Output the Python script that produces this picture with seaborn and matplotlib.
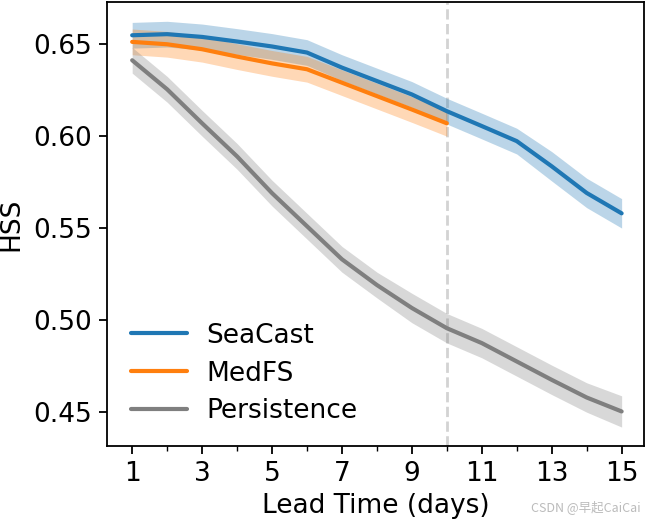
import matplotlib
matplotlib.use("Agg")
import matplotlib.pyplot as plt
import seaborn as sns
import numpy as np
import pandas as pd
from matplotlib.ticker import MultipleLocator

sns.set_style("ticks")
plt.rcParams['font.family'] = ['DejaVu Sans', 'Noto Sans CJK SC']
plt.rcParams['text.color'] = 'black'
plt.rcParams['axes.labelcolor'] = 'black'
plt.rcParams['xtick.color'] = 'black'
plt.rcParams['ytick.color'] = 'black'

lead_days = list(range(1, 16))
seacast = [0.6549, 0.6555, 0.6540, 0.6515, 0.6488, 0.6455, 0.6373, 0.6300, 0.6227, 0.6136,
           0.6055, 0.5973, 0.5836, 0.5691, 0.5580]
seacast_err = [0.007, 0.007, 0.007, 0.007, 0.007, 0.007, 0.007, 0.007, 0.007, 0.007,
               0.007, 0.007, 0.008, 0.008, 0.008]
medfs_days = list(range(1, 11))
medfs = [0.6513, 0.6500, 0.6473, 0.6433, 0.6396, 0.6364, 0.6291, 0.6218, 0.6145, 0.6070]
medfs_err = [0.007, 0.007, 0.007, 0.007, 0.007, 0.007, 0.007, 0.007, 0.007, 0.007]
persistence = [0.6413, 0.6255, 0.6070, 0.5890, 0.5690, 0.5510, 0.5330, 0.5190, 0.5065, 0.4955,
               0.4874, 0.4774, 0.4674, 0.4578, 0.4502]
persistence_err = [0.007, 0.007, 0.007, 0.007, 0.007, 0.007, 0.007, 0.007, 0.008, 0.008,
                   0.008, 0.008, 0.008, 0.008, 0.0085]
series_names = ["SeaCast", "MedFS", "Persistence"]
colors = ["#1f77b4", "#ff7f0e", "#7f7f7f"]

fig = plt.figure(figsize=(6.47, 5.22), dpi=100)
ax = fig.add_axes([107/647, 1 - 446/522, (644 - 107)/647, (446 - 2)/522])

data = [(lead_days, seacast, seacast_err), (medfs_days, medfs, medfs_err),
        (lead_days, persistence, persistence_err)]
for name, col, (xs, ys, es) in zip(series_names, colors, data):
    df = pd.DataFrame({"Lead Time": xs, "HSS": ys})
    sns.lineplot(data=df, x="Lead Time", y="HSS", ax=ax, color=col, lw=3, label=name)
    lo = np.array(ys) - np.array(es)
    hi = np.array(ys) + np.array(es)
    ax.fill_between(xs, lo, hi, color=col, alpha=0.3, lw=0)

ax.axvline(10, color="lightgray", ls="--", lw=2, zorder=0)

ax.set_xlim(0.28, 15.64)
ax.set_ylim(0.4314, 0.673)
ax.xaxis.set_minor_locator(MultipleLocator(1))
ax.set_xticks(list(range(1, 16, 2)))
ax.set_yticks([0.45, 0.50, 0.55, 0.60, 0.65])
ax.set_yticklabels(["0.45", "0.50", "0.55", "0.60", "0.65"])
ax.tick_params(axis="both", which="major", labelsize=19, length=6, width=1.3, pad=5)
ax.tick_params(axis="x", which="minor", length=3.5, width=1.0)
for s in ax.spines.values():
    s.set_linewidth(1.3)
    s.set_color("black")
ax.set_xlabel("Lead Time (days)", fontsize=19, labelpad=4)
ax.set_ylabel("HSS", fontsize=19, labelpad=6)

leg = ax.legend(loc="lower left", frameon=False, fontsize=19, handlelength=2.15,
                bbox_to_anchor=(0.0, -0.005), labelspacing=0.45, handletextpad=0.7)
for l in leg.get_lines():
    l.set_linewidth(3)

fig.text(0.99, 0.015, "CSDN @早起CaiCai", ha="right", va="bottom", fontsize=9,
         color="#bbbbbb", family=["Noto Sans CJK SC", "DejaVu Sans"])

fig.savefig("out.png", dpi=100)
